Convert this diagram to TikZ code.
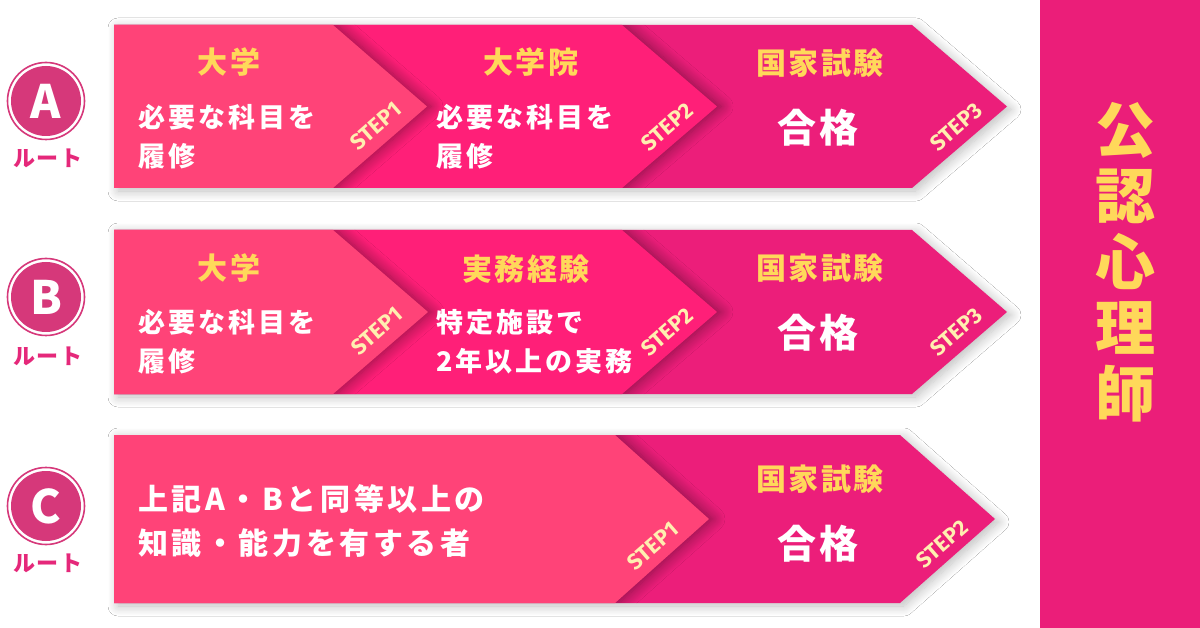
\documentclass[tikz,border=0pt]{standalone}
\usepackage{fontspec}
\setmainfont{Noto Sans CJK JP}
\newfontfamily\jpwide{Noto Sans CJK JP}[LetterSpace=11]
\newfontfamily\jpwidec{Noto Sans CJK JP}[LetterSpace=12]
\newfontfamily\jpmid{Noto Sans CJK JP}[LetterSpace=7]
\newfontfamily\stepf{Fira Sans}[LetterSpace=1]
\usetikzlibrary{shadows.blur}
\definecolor{aone}{HTML}{FF4378}
\definecolor{atwo}{HTML}{FF1F78}
\definecolor{athree}{HTML}{EC1E7A}
\definecolor{panel}{HTML}{EB1E79}
\definecolor{circ}{HTML}{D6387A}
\definecolor{routec}{HTML}{E5287A}
\definecolor{ylw}{HTML}{FFD85A}
\definecolor{stepc}{HTML}{FFEFB0}
\tikzset{
  chev/.style={blur shadow={shadow xshift=4pt, shadow yshift=-3pt, shadow blur radius=10pt, shadow opacity=26, shadow blur steps=12}},
  inshadow/.style={blur shadow={shadow xshift=4pt, shadow yshift=0pt, shadow blur radius=12pt, shadow opacity=42, shadow blur steps=12}},
  ttl/.style={font=\jpmid\bfseries\fontsize{30}{32}\selectfont, text=ylw, inner sep=0pt},
  body/.style={font=\jpwide\bfseries\fontsize{27}{39}\selectfont, text=white, inner sep=0pt, align=left, anchor=west},
  bodyc/.style={font=\jpwidec\bfseries\fontsize{30}{44}\selectfont, text=white, inner sep=0pt, align=left, anchor=west},
  pass/.style={font=\jpmid\bfseries\fontsize{39}{40}\selectfont, text=white, inner sep=0pt},
  steplbl/.style={font=\stepf\bfseries\fontsize{22}{22}\selectfont, text=stepc, inner sep=0pt, rotate=41},
  badge/.style={circle, fill=circ, minimum size=70pt, inner sep=0pt, text=white, font=\bfseries\fontsize{46}{46}\selectfont},
  ring/.style={draw=circ, line width=1.6pt},
  route/.style={font=\jpmid\bfseries\fontsize{22}{22}\selectfont, text=routec, inner sep=0pt},
  vert/.style={font=\bfseries\fontsize{60}{66}\selectfont, text=ylw, align=center, inner sep=0pt}
}
\begin{document}
\begin{tikzpicture}[x=1pt,y=-1pt]
\useasboundingbox (0,0) rectangle (1200,628);
\fill[white] (0,0) rectangle (1200,628);
% right panel
\fill[panel] (1040,0) rectangle (1200,628);
\node[vert] (title) at (1125,262) {公\\認\\心\\理\\師};

% ---------- Row A ----------
\fill[athree,chev] (114,25) -- (912,25) -- (1007,106.5) -- (912,188) -- (114,188) -- cycle;
\begin{scope}
\clip (114,25) -- (912,25) -- (1007,106.5) -- (912,188) -- (114,188) -- cycle;
\fill[atwo,inshadow] (114,25) -- (622,25) -- (717,106.5) -- (622,188) -- (114,188) -- cycle;
\fill[aone,inshadow] (114,25) -- (333,25) -- (427,106.5) -- (333,188) -- (114,188) -- cycle;
\end{scope}
\node[badge] (ba) at (46,101) {A};
\draw[ring] (ba.center) circle (38.5pt);
\node[route] (ra) at (48,158) {ルート};
\node[ttl] (a1t) at (229,62) {大学};
\node[body] (a1b) at (138,136.5) {必要な科目を\\履修};
\node[steplbl] (a1s) at (376,126) {STEP1};
\node[ttl] (a2t) at (531,62) {大学院};
\node[body] (a2b) at (436,136.5) {必要な科目を\\履修};
\node[steplbl] (a2s) at (667,127) {STEP2};
\node[ttl] (a3t) at (820,63) {国家試験};
\node[pass] (a3p) at (818,128) {合格};
\node[steplbl] (a3s) at (956,127) {STEP3};

% ---------- Row B ----------
\fill[athree,chev] (114,230) -- (912,230) -- (1007,312) -- (912,394) -- (114,394) -- cycle;
\begin{scope}
\clip (114,230) -- (912,230) -- (1007,312) -- (912,394) -- (114,394) -- cycle;
\fill[atwo,inshadow] (114,230) -- (622,230) -- (717,312) -- (622,394) -- (114,394) -- cycle;
\fill[aone,inshadow] (114,230) -- (333,230) -- (428,312) -- (333,394) -- (114,394) -- cycle;
\end{scope}
\node[badge] (bb) at (46,297) {B};
\draw[ring] (bb.center) circle (38.5pt);
\node[route] (rb) at (48,356) {ルート};
\node[ttl] (b1t) at (229,268) {大学};
\node[body] (b1b) at (138,341.5) {必要な科目を\\履修};
\node[steplbl] (b1s) at (377,331) {STEP1};
\node[ttl] (b2t) at (526,269) {実務経験};
\node[body] (b2b) at (436,341.5) {特定施設で\\2年以上の実務};
\node[steplbl] (b2s) at (667,332) {STEP2};
\node[ttl] (b3t) at (820,268) {国家試験};
\node[pass] (b3p) at (818,333) {合格};
\node[steplbl] (b3s) at (956,332) {STEP3};

% ---------- Row C ----------
\fill[athree,chev] (114,435) -- (900,435) -- (995,519) -- (900,603) -- (114,603) -- cycle;
\begin{scope}
\clip (114,435) -- (900,435) -- (995,519) -- (900,603) -- (114,603) -- cycle;
\fill[aone,inshadow] (114,435) -- (615,435) -- (709,519) -- (615,603) -- (114,603) -- cycle;
\end{scope}
\node[badge] (bc) at (46,506) {C};
\draw[ring] (bc.center) circle (38.5pt);
\node[route] (rc) at (48,563) {ルート};
\node[bodyc] (c1b) at (138,521) {上記A・Bと同等以上の\\知識・能力を有する者};
\node[steplbl] (c1s) at (653,546) {STEP1};
\node[ttl] (c2t) at (820,479) {国家試験};
\node[pass] (c2p) at (818,544) {合格};
\node[steplbl] (c2s) at (942,544) {STEP2};
\end{tikzpicture}
\end{document}
